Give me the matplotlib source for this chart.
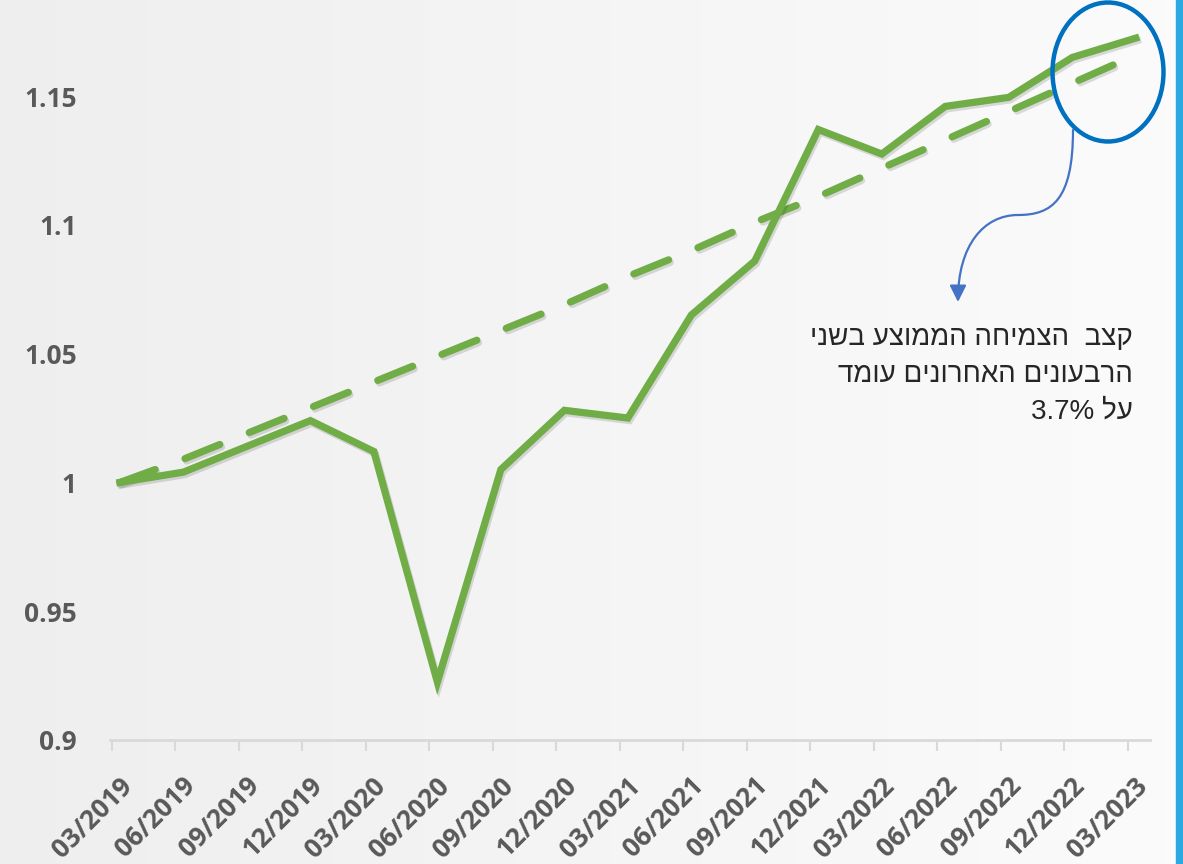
import matplotlib
matplotlib.use("Agg")
import matplotlib.pyplot as plt
import matplotlib.patheffects as pe
from matplotlib.patches import Ellipse, FancyArrowPatch, Rectangle
from matplotlib.path import Path
from matplotlib.transforms import ScaledTranslation
import numpy as np

quarters = ['03/2019', '06/2019', '09/2019', '12/2019', '03/2020', '06/2020',
            '09/2020', '12/2020', '03/2021', '06/2021', '09/2021', '12/2021',
            '03/2022', '06/2022', '09/2022', '12/2022', '03/2023']
# quarterly index, 03/2019 = 1
index_values = [1.000, 1.004, 1.014, 1.024, 1.012, 0.9225, 1.005, 1.028, 1.025,
                1.065, 1.086, 1.137, 1.1275, 1.146, 1.1495, 1.165, 1.1725]
# average growth trend
trend_values = [1.000, 1.009, 1.019, 1.029, 1.039, 1.049, 1.059, 1.069, 1.080,
                1.090, 1.101, 1.111, 1.122, 1.133, 1.144, 1.155, 1.166]
y_ticks = [0.9, 0.95, 1.0, 1.05, 1.1, 1.15]
y_tick_labels = ['0.9', '0.95', '1', '1.05', '1.1', '1.15']
note_lines = ['קצב  הצמיחה הממוצע בשני', 'הרבעונים האחרונים עומד', 'על 3.7%']

GREEN = '#70ad47'
LABEL_GRAY = '#595959'
AXIS_GRAY = '#d9d9d9'


def visual_order(line):
    # matplotlib has no bidi support: flip word order and Hebrew words by hand
    words = line.split(' ')
    out = []
    for w in reversed(words):
        if any('\u0590' <= c <= '\u05ff' for c in w):
            out.append(w[::-1])
        else:
            out.append(w)
    return ' '.join(out)


W, H, DPI = 1183, 864, 100
fig = plt.figure(figsize=(W / DPI, H / DPI), dpi=DPI)


def px(x, y):
    return x / W, 1 - y / H


# soft grey background, lighter towards the right
bg = fig.add_axes([0, 0, 1, 1], zorder=-10)
grad = np.linspace(0.935, 0.985, 256).reshape(1, -1)
bg.imshow(np.dstack([grad, grad, grad]), aspect='auto', extent=[0, 1, 0, 1])
bg.set_xlim(0, 1)
bg.set_ylim(0, 1)
bg.axis('off')

ax = fig.add_axes([110 / W, 1 - 740 / H, 1040 / W, 740 / H])
ax.patch.set_alpha(0)
x = np.arange(len(quarters))

shadow = [pe.SimpleLineShadow(offset=(1.2, -1.8), shadow_color='black', alpha=0.13),
          pe.Normal()]
shift = ax.transData + ScaledTranslation(8 / DPI, 0, fig.dpi_scale_trans)
ax.plot(x, trend_values, color=GREEN, lw=5.2, dashes=(5.2, 4.4),
        dash_capstyle='round', transform=shift, path_effects=shadow, zorder=3)
ax.plot(x, index_values, color=GREEN, lw=5.2, solid_joinstyle='miter',
        transform=shift, path_effects=shadow, zorder=4)

ax.set_xlim(-0.03, 16.35)
ax.set_ylim(0.9, 1.1873)
for side in ['top', 'right', 'left']:
    ax.spines[side].set_visible(False)
ax.spines['bottom'].set_color(AXIS_GRAY)
ax.spines['bottom'].set_linewidth(2)

ax.set_yticks(y_ticks)
ax.set_yticklabels(y_tick_labels)
ax.tick_params(axis='y', length=0, pad=24)
ax.set_xticks(x)
ax.set_xticklabels(quarters)
ax.tick_params(axis='x', length=8, width=1.5, color=AXIS_GRAY, pad=22)

for lbl in ax.get_yticklabels():
    lbl.set_fontfamily('Open Sans')
    lbl.set_fontweight('bold')
    lbl.set_fontsize(19)
    lbl.set_color(LABEL_GRAY)
lbl_shift = ScaledTranslation(16 / DPI, 0, fig.dpi_scale_trans)
for lbl in ax.get_xticklabels():
    lbl.set_fontfamily('Open Sans')
    lbl.set_fontweight('bold')
    lbl.set_fontsize(19)
    lbl.set_color(LABEL_GRAY)
    lbl.set_rotation(45)
    lbl.set_rotation_mode('anchor')
    lbl.set_ha('right')
    lbl.set_va('center')
    lbl.set_transform(lbl.get_transform() + lbl_shift)

# highlight on the last quarters
fig.patches.append(Ellipse(px(1108, 72), 111 / W, 139 / H, transform=fig.transFigure,
                           fill=False, edgecolor='#0070c0', lw=3.2, zorder=5))

# curved pointer down to the note
verts = [px(1073, 130), px(1073, 200), px(1052, 215), px(1018, 215),
         px(984, 215), px(958, 245), px(958, 302)]
codes = [Path.MOVETO] + [Path.CURVE4] * 6
fig.patches.append(FancyArrowPatch(path=Path(verts, codes), transform=fig.transFigure,
                                   arrowstyle='-|>,head_length=10,head_width=5',
                                   mutation_scale=1, color='#4472c4', lw=1.6,
                                   shrinkA=0, shrinkB=0, zorder=5))

for i, line in enumerate(note_lines):
    fx, fy = px(1133, 338 + 37 * i)
    fig.text(fx, fy, visual_order(line), ha='right', va='center', fontsize=20,
             family=['Liberation Sans', 'DejaVu Sans'], color='#262626')

# accent bar on the right edge
fig.patches.append(Rectangle(px(1176, 864), 7 / W, 1, transform=fig.transFigure,
                             color='#29abe2', zorder=6))

fig.savefig('out.png', dpi=DPI)
